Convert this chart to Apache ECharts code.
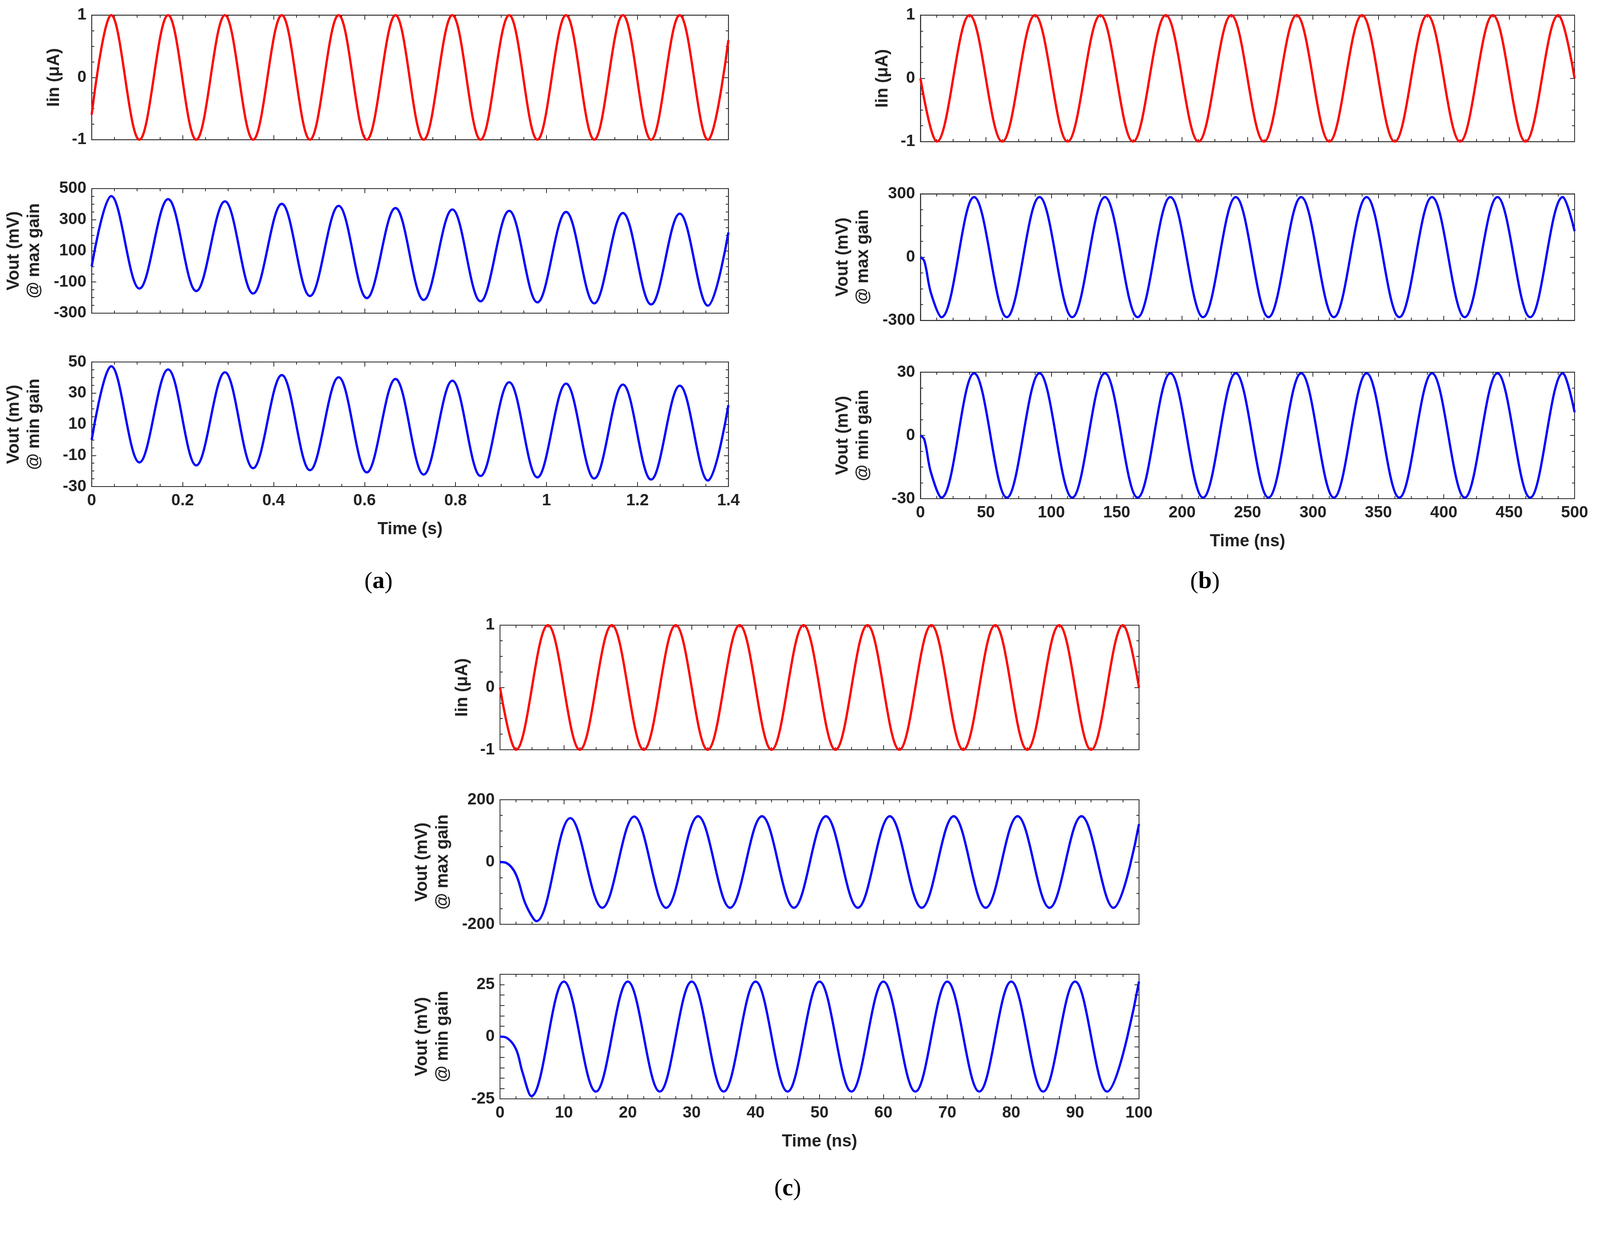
<!DOCTYPE html>
<html>
<head>
<meta charset="utf-8">
<script src="https://cdn.jsdelivr.net/npm/echarts@6/dist/echarts.min.js"></script>
<style>html,body{margin:0;padding:0;background:#fff;overflow:hidden}#chart{width:100vw;height:100vh}</style>
</head>
<body>
<div id="chart"></div>
<script>
// ---- data (turning points of each trace) ----
// panel (a): time in s
var tA = [0,0.043,0.105,0.168,0.23,0.293,0.355,0.418,0.48,0.543,0.605,0.668,0.73,0.793,0.855,0.918,0.98,1.043,1.105,1.168,1.23,1.293,1.355,1.4];
var iinA = [-0.6,1,-1,1,-1,1,-1,1,-1,1,-1,1,-1,1,-1,1,-1,1,-1,1,-1,1,-1,0.6];
var voutMaxA = [0,452,-142,432,-158,418,-174,402,-190,389,-203,375,-215,366,-224,357,-231,350,-237,343,-244,339,-252,218];
var voutMinA = [0,47.3,-14.5,45.2,-16.4,43.4,-18.2,41.6,-19.5,40.2,-20.9,39.1,-22.3,38,-23.2,37,-24.1,36.1,-24.8,35.5,-25.5,34.8,-26.1,22.3];

// panel (b): time in ns
var tInB = [0,12.5,37.5,62.5,87.5,112.5,137.5,162.5,187.5,212.5,237.5,262.5,287.5,312.5,337.5,362.5,387.5,412.5,437.5,462.5,487.5,500];
var iinB = [0,-1,1,-1,1,-1,1,-1,1,-1,1,-1,1,-1,1,-1,1,-1,1,-1,1,0];
var tOutB = [0,3,8,16,41,66,91,116,141,166,191,216,241,266,291,316,341,366,391,416,441,466,491,500];
var voutMaxB = [0,-20,-170,-285,285,-285,285,-285,285,-285,285,-285,285,-285,285,-285,285,-285,285,-285,285,-285,285,123];
var voutMinB = [0,-2,-17.5,-29.5,29.5,-29.5,29.5,-29.5,29.5,-29.5,29.5,-29.5,29.5,-29.5,29.5,-29.5,29.5,-29.5,29.5,-29.5,29.5,-29.5,29.5,11];

// panel (c): time in ns
var tInC = [0,2.5,7.5,12.5,17.5,22.5,27.5,32.5,37.5,42.5,47.5,52.5,57.5,62.5,67.5,72.5,77.5,82.5,87.5,92.5,97.5,100];
var iinC = [0,-1,1,-1,1,-1,1,-1,1,-1,1,-1,1,-1,1,-1,1,-1,1,-1,1,0];
var tOutMaxC = [0,1,2.5,4,5.7,11,16,21,26,31,36,41,46,51,56,61,66,71,76,81,86,91,96,100];
var voutMaxC = [0,-3,-40,-135,-190,141,-147,146,-147,147,-147,147,-147,147,-147,147,-147,147,-147,147,-147,147,-147,122];
var tOutMinC = [0,1,2.5,3.5,4.9,10,15,20,25,30,35,40,45,50,55,60,65,70,75,80,85,90,95,100];
var voutMinC = [0,-0.5,-6,-17,-28.7,26.5,-26.5,26.5,-26.5,26.5,-26.5,26.5,-26.5,26.5,-26.5,26.5,-26.5,26.5,-26.5,26.5,-26.5,26.5,-26.5,26.5];

// ---- layout (designed for 4224 px wide, scaled to the real box) ----
var FONT = "Liberation Sans";
var RED = "#ff0000", BLUE = "#0000ff";
var dom = document.getElementById("chart");
var S = dom.clientWidth / 4224;

var plots = [
	{box:[242,40,1681,329], x:tA, y:iinA, color:RED, xr:[0,1.4,0.2], yr:[-1,1,1], name:"Iin (\u03bcA)", xl:false},
	{box:[242,498,1681,329], x:tA, y:voutMaxA, color:BLUE, xr:[0,1.4,0.2], yr:[-300,500,200], name:"Vout (mV)\n@ max gain", xl:false},
	{box:[242,956,1681,329], x:tA, y:voutMinA, color:BLUE, xr:[0,1.4,0.2], yr:[-30,50,20], name:"Vout (mV)\n@ min gain", xl:true, xname:"Time (s)"},
	{box:[2430,40,1727,334], x:tInB, y:iinB, color:RED, xr:[0,500,50], yr:[-1,1,1], name:"Iin (\u03bcA)", xl:false},
	{box:[2430,512,1727,334], x:tOutB, y:voutMaxB, color:BLUE, xr:[0,500,50], yr:[-300,300,300], name:"Vout (mV)\n@ max gain", xl:false},
	{box:[2430,983,1727,334], x:tOutB, y:voutMinB, color:BLUE, xr:[0,500,50], yr:[-30,30,30], name:"Vout (mV)\n@ min gain", xl:true, xname:"Time (ns)"},
	{box:[1320,1651,1687,329], x:tInC, y:iinC, color:RED, xr:[0,100,10], yr:[-1,1,1], name:"Iin (\u03bcA)", xl:false},
	{box:[1320,2112,1687,329], x:tOutMaxC, y:voutMaxC, color:BLUE, xr:[0,100,10], yr:[-200,200,200], name:"Vout (mV)\n@ max gain", xl:false},
	{box:[1320,2573,1687,329], x:tOutMinC, y:voutMinC, color:BLUE, xr:[0,100,10], yr:[-30,30,5], name:"Vout (mV)\n@ min gain", xl:true, xname:"Time (ns)",
		yfmt:function(v){ if (v==25) return "25"; if (v==0) return "0"; if (v==-30) return "-25"; return ""; }}
];

var grids = [], xAxes = [], yAxes = [], series = [];
var axisColor = "#222";
var tickStyle = {show:true, inside:true, length:12*S, lineStyle:{color:axisColor, width:2*S}};
var minorStyle = {show:true, splitNumber:4, length:7*S, lineStyle:{color:axisColor, width:2*S}};
var lineStyle = {show:true, onZero:false, lineStyle:{color:axisColor, width:2*S}};
var nameFont = {fontFamily:FONT, fontWeight:"bold", fontSize:45*S, color:axisColor, lineHeight:54*S, align:"center"};

plots.forEach(function(p, i){
	grids.push({left:p.box[0]*S, top:p.box[1]*S, width:p.box[2]*S, height:p.box[3]*S,
		show:true, borderColor:axisColor, borderWidth:2*S, backgroundColor:"#fff"});
	xAxes.push({type:"value", gridIndex:i, position:"bottom", min:p.xr[0], max:p.xr[1], interval:p.xr[2],
		axisLine:lineStyle, axisTick:tickStyle, minorTick:minorStyle, splitLine:{show:false},
		axisLabel:{show:p.xl, fontFamily:FONT, fontWeight:"bold", fontSize:43*S, color:axisColor, margin:16*S,
			formatter:function(v){ return String(+v.toFixed(2)); }},
		name:p.xname || "", nameLocation:"middle", nameGap:86*S, nameTextStyle:nameFont});
	xAxes.push({type:"value", gridIndex:i, position:"top", min:p.xr[0], max:p.xr[1], interval:p.xr[2],
		axisLine:lineStyle, axisTick:tickStyle, minorTick:minorStyle, splitLine:{show:false}, axisLabel:{show:false}});
	var yl = {fontFamily:FONT, fontWeight:"bold", fontSize:43*S, color:axisColor, margin:14*S};
	if (p.yfmt) yl.formatter = p.yfmt;
	yAxes.push({type:"value", gridIndex:i, position:"left", min:p.yr[0], max:p.yr[1], interval:p.yr[2],
		axisLine:lineStyle, axisTick:tickStyle, minorTick:p.yfmt ? {show:false} : minorStyle,
		splitLine:{show:false}, axisLabel:yl,
		name:p.name, nameLocation:"middle", nameRotate:90, nameGap:(p.name.indexOf("\n")>=0 ? 124 : 72)*S,
		nameTextStyle:nameFont});
	yAxes.push({type:"value", gridIndex:i, position:"right", min:p.yr[0], max:p.yr[1], interval:p.yr[2],
		axisLine:lineStyle, axisTick:tickStyle, minorTick:p.yfmt ? {show:false} : minorStyle,
		splitLine:{show:false}, axisLabel:{show:false}});
	var pts = [];
	for (var k = 0; k < p.x.length; k++) pts.push([p.x[k], p.y[k]]);
	series.push({type:"line", xAxisIndex:2*i, yAxisIndex:2*i, data:pts, smooth:0.364, showSymbol:false,
		lineStyle:{color:p.color, width:6*S}, clip:true});
});

var labelRich = {
	p:{fontFamily:"Liberation Serif", fontSize:64*S, fill:"#000"},
	b:{fontFamily:"Liberation Serif", fontWeight:"bold", fontSize:64*S, fill:"#000"}
};
var panelLabel = function(ch, x, y){
	return {type:"text", left:x*S, top:y*S, style:{text:"{p|(}{b|" + ch + "}{p|)}", rich:labelRich}};
};

var chart = echarts.init(dom, null, {renderer:"canvas"});
chart.setOption({
	animation:false,
	backgroundColor:"#fff",
	grid:grids, xAxis:xAxes, yAxis:yAxes, series:series,
	graphic:[panelLabel("a", 962, 1505), panelLabel("b", 3142, 1505), panelLabel("c", 2044, 3108)]
});
</script>
</body>
</html>
